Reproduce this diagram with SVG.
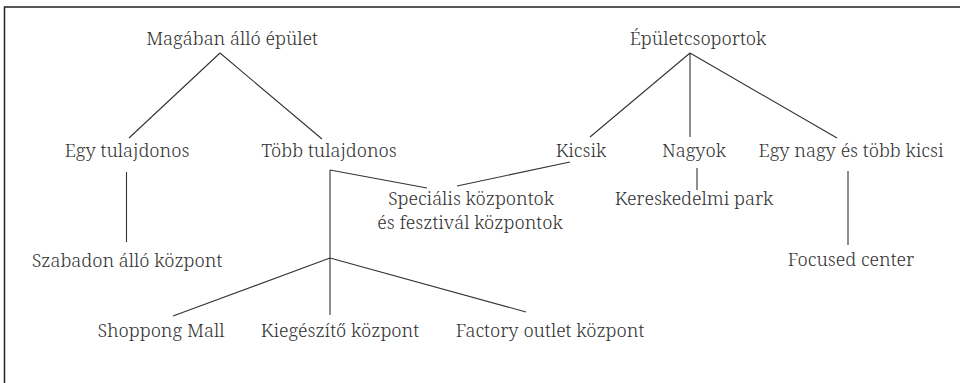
<svg xmlns="http://www.w3.org/2000/svg" width="960" height="383" viewBox="0 0 960 383">
  <style>
    text { font-family: "Noto Serif", "DejaVu Serif", "Liberation Serif", serif; font-size: 18.4px; font-weight: 300; fill: #333; text-anchor: middle; }
    .frame { fill: none; stroke: #222; stroke-width: 1.5; }
    .link { fill: none; stroke: #333; stroke-width: 1.1; }
  </style>
  <rect width="960" height="383" fill="#fff"/>
  <path class="frame" d="M4.5 383 V7 H960"/>

  <g id="connectors">
    <path class="link" d="M220 53 L129 138 M220 53 L322 139"/>
    <path class="link" d="M126.5 172 V242"/>
    <path class="link" d="M330 170 V315 M330 170 L427 188 M330 258 L173 316 M330 258 L526 312"/>
    <path class="link" d="M570 162 L457 186"/>
    <path class="link" d="M690 53 L590 137 M690 53 V137 M690 53 L837 138"/>
    <path class="link" d="M697 168 V190"/>
    <path class="link" d="M848 171 V245"/>
  </g>

  <g id="n-magaban"><text x="232" y="45">Magában álló épület</text></g>
  <g id="n-egy"><text x="127" y="157">Egy tulajdonos</text></g>
  <g id="n-tobb"><text x="329" y="157">Több tulajdonos</text></g>
  <g id="n-szabadon"><text x="127" y="267">Szabadon álló központ</text></g>
  <g id="n-specialis"><text x="471" y="205">Speciális központok</text><text x="470" y="229">és fesztivál központok</text></g>
  <g id="n-shopping"><text x="161" y="337">Shoppong Mall</text></g>
  <g id="n-kiegeszito"><text x="340" y="337">Kiegészítő központ</text></g>
  <g id="n-factory"><text x="550" y="337">Factory outlet központ</text></g>
  <g id="n-epuletcsoportok"><text x="698" y="45">Épületcsoportok</text></g>
  <g id="n-kicsik"><text x="581" y="157">Kicsik</text></g>
  <g id="n-nagyok"><text x="694" y="157">Nagyok</text></g>
  <g id="n-egynagy"><text x="851" y="157">Egy nagy és több kicsi</text></g>
  <g id="n-kereskedelmi"><text x="694" y="205">Kereskedelmi park</text></g>
  <g id="n-focused"><text x="851" y="266">Focused center</text></g>
</svg>
